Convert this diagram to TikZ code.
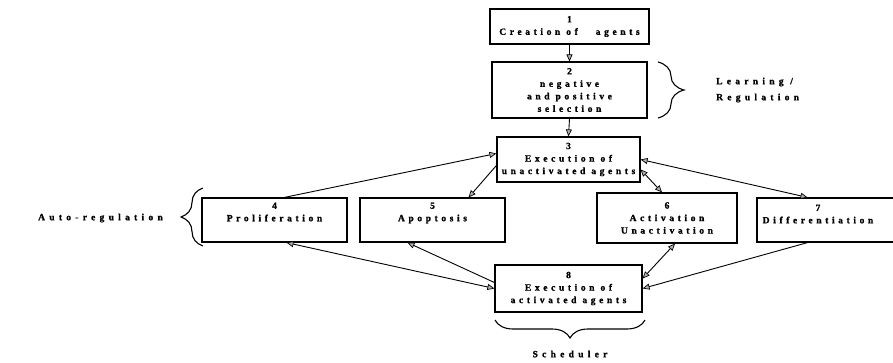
\documentclass[tikz,border=0pt]{standalone}
\usepackage{fontspec}
\setmainfont{Liberation Serif}
\newfontfamily\boxfont[LetterSpace=38,FakeBold=1.2]{Liberation Serif Bold}
\newfontfamily\lblfont[LetterSpace=45,FakeBold=1.2]{Liberation Serif Bold}
\usetikzlibrary{arrows.meta,decorations.pathreplacing,calc}
\tikzset{
  box/.style={draw, line width=1.2pt, align=center, inner sep=0pt,
    font=\boxfont\fontsize{9.5}{12.5}\selectfont},
  lbl/.style={inner sep=0pt, font=\lblfont\fontsize{9.5}{12}\selectfont},
  conn/.style={line width=0.9pt},
  tip/.tip={Triangle[length=7pt,width=6pt,fill=gray!60,line width=0.7pt]},
  brc/.style={decorate, line width=1.1pt}
}
\begin{document}
\begin{tikzpicture}[x=1pt,y=-1pt]
\clip (0,0) rectangle (893,363);
\fill[white] (0,0) rectangle (893,363);
% boxes
\node[box, minimum width=159pt, minimum height=35pt] (b1) at (569.5,26.5) {1\\Creation of \ \ agents};
\node[box, minimum width=155pt, minimum height=56pt] (b2) at (569.5,90) {2\\negative\\and positive\\selection};
\node[box, minimum width=143pt, minimum height=45pt] (b3) at (568.5,159.5) {3\\Execution of\\unactivated agents};
\node[box, minimum width=145pt, minimum height=44pt] (b4) at (274.5,220) {4\\Proliferation\\\strut};
\node[box, minimum width=145pt, minimum height=44pt] (b5) at (432.5,220) {5\\Apoptosis\\\strut};
\node[box, minimum width=140pt, minimum height=50pt] (b6) at (667,218) {6\\Activation\\Unactivation};
\node[box, minimum width=145pt, minimum height=44pt] (b7) at (829.5,220) {};
\node[lbl, align=center, font=\boxfont\fontsize{9.5}{12.5}\selectfont] (t7) at (818,214) {7\\Differentiation};
\node[box, minimum width=147pt, minimum height=47pt] (b8) at (568.5,288.5) {8\\Execution of\\activated agents};
% connectors
\draw[conn,-tip] (b1.south) -- (b2.north);
\draw[conn,-tip] (b2.south) -- (b3.north);
\draw[conn,-tip] ([xshift=10pt]b4.north) -- ([yshift=6pt]b3.west);
\draw[conn,-tip] ([yshift=-6pt]b3.west) -- ([xshift=-37pt]b5.north east);
\draw[conn,tip-tip] ([yshift=-10pt]b3.east) -- ([xshift=-5pt]b6.north);
\draw[conn,tip-tip] (b3.east) -- ([xshift=-22pt]b7.north);
\draw[conn,tip-tip] ([xshift=12pt]b4.south) -- (b8.west);
\draw[conn,tip-] ([xshift=-25pt]b5.south) -- ([yshift=6pt]b8.west);
\draw[conn,tip-tip] ([xshift=8pt]b6.south) -- ([yshift=10pt]b8.east);
\draw[conn,-tip] ([xshift=-22pt]b7.south) -- (b8.east);
% braces
\coordinate (lb1) at (658,62);
\coordinate (lb2) at (658,118);
\draw[brc, decoration={brace, amplitude=26pt}] (lb1) -- (lb2);
\node[lbl, anchor=west] (learn) at (716,82) {Learning /};
\node[lbl, anchor=west] (regul) at (716,98) {Regulation};
\coordinate (ab1) at (203,246);
\coordinate (ab2) at (203,188);
\draw[brc, decoration={brace, amplitude=22pt}] (ab1) -- (ab2);
\node[lbl, anchor=west] (auto) at (38,218) {Auto-regulation};
\coordinate (sb1) at (645,320);
\coordinate (sb2) at (495,320);
\draw[brc, decoration={brace, amplitude=18pt}] (sb1) -- (sb2);
\node[lbl] (sched) at (570,354) {Scheduler};
\end{tikzpicture}
\end{document}
